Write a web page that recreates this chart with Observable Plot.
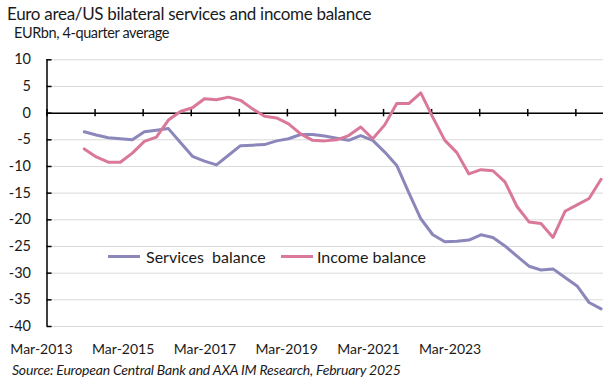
<!DOCTYPE html>
<html><head><meta charset="utf-8">
<script src="https://cdn.jsdelivr.net/npm/d3@7"></script>
<script src="https://cdn.jsdelivr.net/npm/@observablehq/plot@0.6"></script>
<style>
body{margin:0;background:#fff;}
#wrap{position:relative;width:615px;height:379px;font-family:Lato,sans-serif;color:#1a1a1a;overflow:hidden}
.t{position:absolute;white-space:pre;line-height:1}
#chart{position:absolute;left:0;top:48px}
.sw{position:absolute;height:3px}
</style></head><body><div id="wrap">
<div class="t" style="left:7px;top:5px;font-size:17px;letter-spacing:-0.3px">Euro area/US bilateral services and income balance</div>
<div class="t" style="left:14px;top:25.6px;font-size:14.5px;letter-spacing:-0.4px">EURbn, 4-quarter average</div>
<div id="chart"></div>
<div class="sw" style="left:108px;top:254.5px;width:32px;background:#8B87BA"></div>
<div class="t" style="left:146px;top:248.5px;font-size:16px">Services  balance</div>
<div class="sw" style="left:281px;top:254.5px;width:32px;background:#D9789B"></div>
<div class="t" style="left:317px;top:248.5px;font-size:16px">Income balance</div>
<div class="t" style="left:12px;top:363px;font-size:14px;font-style:italic;letter-spacing:-0.2px">Source: European Central Bank and AXA IM Research, February 2025</div>
</div>
<script>
// quarter index of each observation (position along the category axis)
const quarterIndex = d3.range(3, 47);
const servicesBalance = [-3.5,-4.1,-4.6,-4.8,-5.0,-3.5,-3.2,-2.9,-5.5,-8.1,-9.0,-9.7,-7.9,-6.1,-6.0,-5.9,-5.2,-4.8,-4.0,-4.0,-4.3,-4.7,-5.1,-4.2,-5.1,-7.3,-9.8,-14.9,-19.8,-22.8,-24.1,-24.0,-23.8,-22.8,-23.3,-24.9,-26.8,-28.7,-29.4,-29.2,-30.8,-32.4,-35.5,-36.7];
const incomeBalance = [-6.7,-8.2,-9.2,-9.2,-7.5,-5.3,-4.5,-1.3,0.3,1.0,2.7,2.5,3.0,2.4,0.8,-0.6,-0.9,-2.0,-3.9,-5.1,-5.2,-5.0,-4.2,-2.6,-4.8,-2.2,1.8,1.8,3.8,-0.8,-5.1,-7.4,-11.4,-10.6,-10.8,-12.9,-17.5,-20.4,-20.7,-23.3,-18.4,-17.2,-16.0,-12.4];
const yTicks = [10,5,0,-5,-10,-15,-20,-25,-30,-35,-40];
const xLabels = ["Mar-2013","Mar-2015","Mar-2017","Mar-2019","Mar-2021","Mar-2023"];

const rows = quarterIndex.map((k, i) => ({k, services: servicesBalance[i], income: incomeBalance[i]}));
const xMin = -0.1, xMax = 46.2;
const labelPos = xLabels.map((_, j) => -0.56 + 6.8 * j);
const labelMap = new Map(labelPos.map((p, j) => [p, xLabels[j]]));
const zeroTicks = d3.range(12).map(j => xMin + 4 * j);
const purple = "#8B87BA", pink = "#D9789B";

const chart = Plot.plot({
  width: 615, height: 316,
  marginLeft: 46.5, marginRight: 12, marginTop: 11.3, marginBottom: 38,
  x: {domain: [xMin, xMax], label: null},
  y: {domain: [-40, 10], label: null},
  style: {fontFamily: "Lato, sans-serif", fontSize: "15px", color: "#1a1a1a", background: "transparent", overflow: "visible"},
  marks: [
    Plot.ruleY(yTicks, {stroke: "#d9d9d9", strokeWidth: 1}),
    Plot.axisY({ticks: yTicks, tickSize: 0, tickPadding: 16, tickFormat: d => String(d), label: null, fontSize: 14.5}),
    Plot.axisX({ticks: labelPos, tickSize: 0, tickPadding: 18, tickFormat: d => labelMap.get(d), label: null, fontSize: 14, style: {letterSpacing: "-0.3px"}}),
    Plot.ruleX([xMin], {y1: -40, y2: 10, stroke: "black", strokeWidth: 1.5}),
    Plot.ruleY(yTicks, {x1: xMin, x2: xMin + 0.42, stroke: "black", strokeWidth: 1.5}),
    Plot.ruleY([0], {stroke: "black", strokeWidth: 1.5}),
    Plot.ruleX(zeroTicks, {y1: -0.7, y2: 0.7, stroke: "black", strokeWidth: 1.5}),
    Plot.line(rows, {x: "k", y: "services", stroke: purple, strokeWidth: 3}),
    Plot.line(rows, {x: "k", y: "income", stroke: pink, strokeWidth: 3})
  ]
});
document.getElementById("chart").appendChild(chart);
</script>
</body></html>
